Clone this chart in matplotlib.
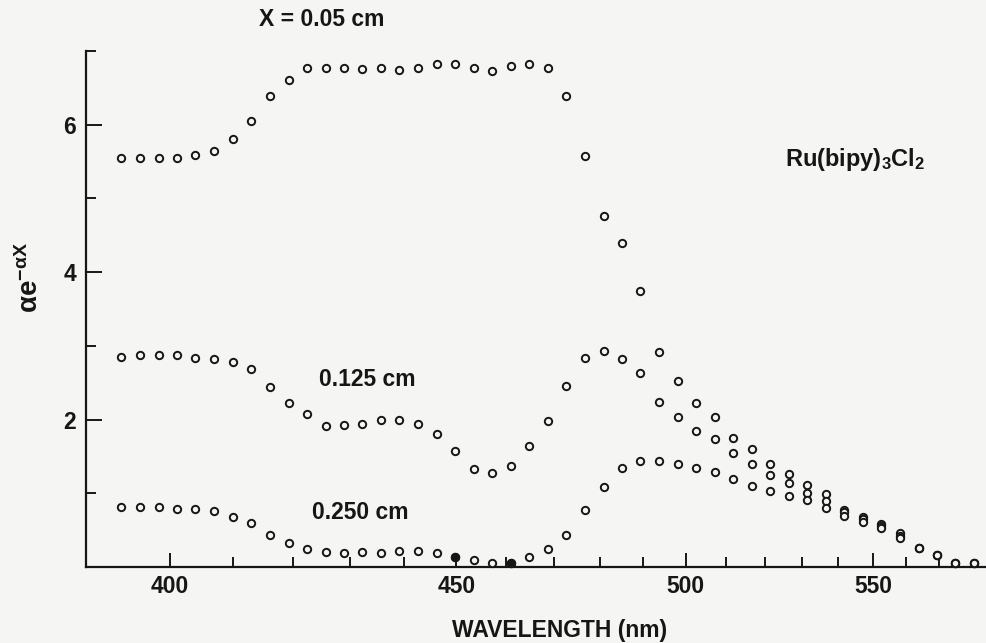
import matplotlib.pyplot as plt
import numpy as np


# ==========================================
# 1. Values
# ==========================================

wavelength_nm = [
    392.6, 395.4, 398.3, 401.1, 404.0, 407.0, 410.0, 413.0, 416.1, 419.3,
    422.5, 425.7, 429.0, 432.3, 435.7, 439.1, 442.6, 446.2, 449.8, 453.4,
    457.2, 461.0, 464.8, 468.7, 472.7, 476.7, 480.9, 485.1, 489.3, 493.7,
    498.1, 502.6, 507.2, 511.8, 516.6, 521.4, 526.4, 531.4, 536.5, 541.7,
    547.0, 552.5, 558.0, 563.7, 569.4, 575.3, 581.3,
]

# X = 0.05 cm
signal_005 = [
    5.55, 5.55, 5.55, 5.55, 5.59, 5.65, 5.81, 6.05, 6.39, 6.60,
    6.77, 6.77, 6.77, 6.76, 6.77, 6.74, 6.77, 6.82, 6.82, 6.77,
    6.73, 6.80, 6.83, 6.77, 6.39, 5.58, 4.76, 4.39, 3.75, 2.91,
    2.52, 2.23, 2.04, 1.75, 1.60, 1.40, 1.26, 1.11, 0.99, 0.78,
    0.68, 0.59, 0.46, 0.26, 0.16, 0.06, 0.06,
]

# X = 0.125 cm
signal_0125 = [
    2.85, 2.87, 2.87, 2.87, 2.83, 2.82, 2.78, 2.68, 2.44, 2.23,
    2.07, 1.91, 1.92, 1.94, 1.99, 1.99, 1.94, 1.80, 1.57, 1.33,
    1.28, 1.37, 1.64, 1.98, 2.46, 2.83, 2.93, 2.82, 2.63, 2.24,
    2.03, 1.84, 1.73, 1.54, 1.40, 1.25, 1.14, 1.00, 0.90, 0.74,
    0.65, 0.56, 0.42, 0.26, 0.16, 0.06, 0.06,
]

# X = 0.250 cm
signal_025 = [
    0.82, 0.82, 0.82, 0.79, 0.79, 0.76, 0.68, 0.60, 0.43, 0.32,
    0.24, 0.20, 0.19, 0.20, 0.19, 0.22, 0.22, 0.19, 0.13, 0.09,
    0.06, 0.06, 0.13, 0.24, 0.43, 0.77, 1.08, 1.34, 1.44, 1.44,
    1.40, 1.34, 1.29, 1.20, 1.10, 1.03, 0.96, 0.91, 0.80, 0.69,
    0.61, 0.53, 0.40, 0.26, 0.16, 0.06, 0.06,
]

# two points of the 0.250 cm set look filled (they sit on a tick)
filled_025 = [18, 21]

x_major = [400, 450, 500, 550]
x_minor = [410, 420, 430, 440, 460, 470, 480, 490,
           510, 520, 530, 540, 560, 570]
y_major = [2, 4, 6]
y_minor = [1, 3, 5, 7]


# ==========================================
# 2. Style
# ==========================================

plt.rcParams["font.family"] = ["Liberation Sans", "DejaVu Sans"]
plt.rcParams["font.weight"] = "bold"
plt.rcParams["mathtext.fontset"] = "custom"
plt.rcParams["mathtext.rm"] = "Liberation Sans:bold"
plt.rcParams["mathtext.it"] = "Liberation Sans:bold"
plt.rcParams["mathtext.bf"] = "Liberation Sans:bold"
plt.rcParams["mathtext.default"] = "rm"

ink = "#161616"
paper = "#f5f5f3"
font_size = 16.5


# the wavelength axis of the original is linear in 1/lambda
def to_wavenumber(w):
    w = np.asarray(w, dtype=float)
    with np.errstate(divide="ignore", invalid="ignore"):
        return -1.0e4 / w


def from_wavenumber(k):
    k = np.asarray(k, dtype=float)
    with np.errstate(divide="ignore", invalid="ignore"):
        return -1.0e4 / k


# ==========================================
# 3. Figure
# ==========================================

fig = plt.figure(figsize=(9.87, 6.43), dpi=100, facecolor=paper)
ax = fig.add_axes([86 / 987, 1 - 567 / 643, 901 / 987, 516 / 643])
ax.set_facecolor(paper)

ax.set_xscale("function", functions=(to_wavenumber, from_wavenumber))
ax.set_xlim(387.4, 585.6)
ax.set_ylim(0, 7)

marker_style = dict(
    linestyle="none",
    marker="o",
    markersize=5.3,
    markeredgewidth=1.4,
    markeredgecolor=ink,
    markerfacecolor=paper,
    clip_on=False,
    zorder=3,
)

for series in [signal_005, signal_0125, signal_025]:
    ax.plot(wavelength_nm, series, **marker_style)

ax.plot(
    [wavelength_nm[i] for i in filled_025],
    [signal_025[i] for i in filled_025],
    linestyle="none",
    marker="o",
    markersize=5.3,
    markeredgewidth=1.4,
    markeredgecolor=ink,
    markerfacecolor=ink,
    clip_on=False,
    zorder=4,
)

# ==========================================
# 4. Axes, ticks
# ==========================================

for side in ["top", "right"]:
    ax.spines[side].set_visible(False)

for side in ["left", "bottom"]:
    ax.spines[side].set_linewidth(1.6)
    ax.spines[side].set_color(ink)

ax.set_xticks(x_major)
ax.set_xticklabels([str(v) for v in x_major])
ax.set_xticks(x_minor, minor=True)

ax.set_yticks(y_major)
ax.set_yticklabels([str(v) for v in y_major])
ax.set_yticks(y_minor, minor=True)

ax.tick_params(axis="x", which="major", direction="in", length=10,
               width=1.4, color=ink, pad=6, labelsize=font_size,
               labelcolor=ink)
ax.tick_params(axis="x", which="minor", direction="in", length=7,
               width=1.4, color=ink)
ax.tick_params(axis="y", which="major", direction="in", length=11.5,
               width=1.4, color=ink, pad=7, labelsize=font_size,
               labelcolor=ink)
ax.tick_params(axis="y", which="minor", direction="in", length=7.5,
               width=1.4, color=ink)

for label in ax.get_xticklabels() + ax.get_yticklabels():
    label.set_fontweight("bold")

# ==========================================
# 5. Labels
# ==========================================

fig.text(560 / 987, 1 - 631 / 643, "WAVELENGTH (nm)",
         ha="center", va="center", fontsize=font_size,
         fontweight="bold", color=ink)

fig.text(30 / 987, 1 - 278 / 643, r"$\alpha e^{-\alpha X}$",
         ha="center", va="center", rotation=90,
         fontsize=20, color=ink)

ax.text(425.1, 7.43, "X = 0.05 cm", ha="center", va="center",
        fontsize=font_size, fontweight="bold", color=ink, clip_on=False)
ax.text(424.5, 2.55, "0.125 cm", ha="left", va="center",
        fontsize=font_size, fontweight="bold", color=ink)
ax.text(423.4, 0.74, "0.250 cm", ha="left", va="center",
        fontsize=font_size, fontweight="bold", color=ink)
ax.text(525.3, 5.53, r"Ru(bipy)$_3$Cl$_2$", ha="left", va="center",
        fontsize=font_size + 0.5, fontweight="bold", color=ink)

plt.savefig("out.png", dpi=100, facecolor=paper)
